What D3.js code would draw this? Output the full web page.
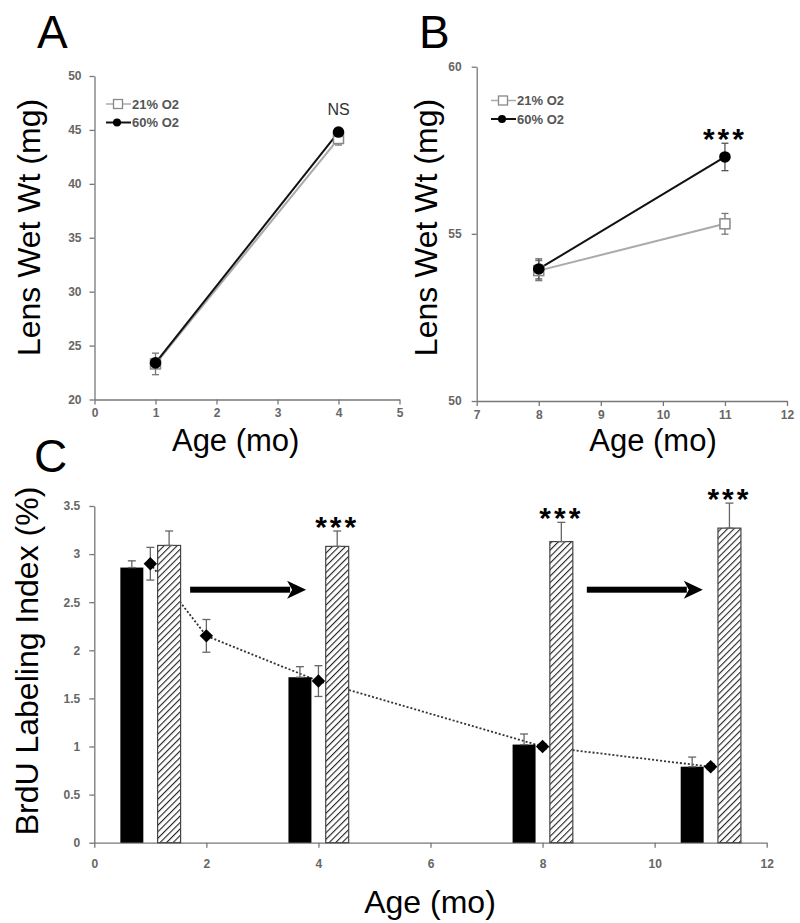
<!DOCTYPE html>
<html><head><meta charset="utf-8">
<script src="https://cdn.jsdelivr.net/npm/d3@7"></script>
<style>
body{margin:0;background:#fff;}
svg{display:block;font-family:"Liberation Sans",Arial,sans-serif;}
.tick text{font-weight:bold;fill:#666;}
</style></head><body>
<svg id="c" width="800" height="923"></svg>
<script>
// ---- Panel A data ----
const agesA = [1, 4];
const a21 = [23.3, 44.2];
const a21Err = [1.0, 0.6];
const a60 = [23.4, 44.8];
const a60Err = [0.4, 0.3];
const ticksA_x = [0, 1, 2, 3, 4, 5];
const ticksA_y = [20, 25, 30, 35, 40, 45, 50];

// ---- Panel B data ----
const agesB = [8, 11];
const b21 = [53.9, 55.3];
const b21Err = [0.3, 0.31];
const b60 = [53.95, 57.3];
const b60Err = [0.3, 0.41];
const ticksB_x = [7, 8, 9, 10, 11, 12];
const ticksB_y = [50, 55, 60];

// ---- Panel C data ----
const barAges = [1, 4, 8, 11];
const blackVals = [2.86, 1.72, 1.02, 0.79];
const blackErr = [0.07, 0.11, 0.11, 0.10];
const hatchVals = [3.09, 3.08, 3.13, 3.27];
const hatchErr = [0.15, 0.16, 0.20, 0.26];
const hatchSig = ["", "***", "***", "***"];
const dotAges = [1, 2, 4, 8, 11];
const dotVals = [2.90, 2.15, 1.68, 1.00, 0.79];
const dotErr = [0.17, 0.17, 0.16, 0.03, 0.03];
const arrowsC = [{from: 1.71, to: 3.78, y: 2.63}, {from: 8.79, to: 10.86, y: 2.63}];
const ticksC_x = [0, 2, 4, 6, 8, 10, 12];
const ticksC_y = [0, 0.5, 1, 1.5, 2, 2.5, 3, 3.5];

const svg = d3.select("#c");
const defs = svg.append("defs");
const pat = defs.append("pattern").attr("id", "hatch").attr("patternUnits", "userSpaceOnUse")
  .attr("width", 4.6).attr("height", 4.6).attr("patternTransform", "rotate(45)");
pat.append("rect").attr("width", 4.6).attr("height", 4.6).attr("fill", "#fff");
pat.append("line").attr("x1", 0).attr("y1", 0).attr("x2", 0).attr("y2", 4.6)
  .attr("stroke", "#222").attr("stroke-width", 2.2);

function styleAxis(g) {
  g.selectAll("path.domain").attr("stroke", "#777").attr("stroke-width", 1.3);
  g.selectAll(".tick line").attr("stroke", "#777").attr("stroke-width", 1.3);
}

function drawAxes(x, y, xt, yt, fmtY, yPad, xPad, fs) {
  const gx = svg.append("g").attr("transform", `translate(0,${y.range()[0]})`)
    .call(d3.axisBottom(x).tickValues(xt).tickSize(5).tickSizeOuter(0).tickPadding(xPad).tickFormat(d3.format("d")));
  gx.selectAll("text").attr("font-size", fs);
  styleAxis(gx);
  const gy = svg.append("g").attr("transform", `translate(${x.range()[0]},0)`)
    .call(d3.axisLeft(y).tickValues(yt).tickSize(5).tickSizeOuter(0).tickPadding(yPad).tickFormat(fmtY));
  gy.selectAll("text").attr("font-size", fs);
  styleAxis(gy);
}

function text(x, y, s, size, opts = {}) {
  const t = svg.append("text").attr("x", x).attr("y", y).text(s)
    .attr("font-size", size).attr("fill", opts.fill || "#000")
    .attr("text-anchor", opts.anchor || "middle");
  if (opts.rotate) t.attr("transform", `rotate(-90,${x},${y})`);
  if (opts.weight) t.attr("font-weight", opts.weight);
  if (opts.ls) t.attr("letter-spacing", opts.ls);
  return t;
}

function errBar(x, yTop, yBot, cap, color) {
  svg.append("line").attr("x1", x).attr("x2", x).attr("y1", yTop).attr("y2", yBot)
    .attr("stroke", color).attr("stroke-width", 1.3);
  svg.append("line").attr("x1", x - cap).attr("x2", x + cap).attr("y1", yTop).attr("y2", yTop)
    .attr("stroke", color).attr("stroke-width", 1.3);
  if (yBot !== null) svg.append("line").attr("x1", x - cap).attr("x2", x + cap).attr("y1", yBot).attr("y2", yBot)
    .attr("stroke", color).attr("stroke-width", 1.3);
}

function linePanel(x, y, ages, s21, e21, s60, e60) {
  const ln = d3.line().x((d, i) => x(ages[i])).y(d => y(d));
  svg.append("path").attr("d", ln(s21)).attr("fill", "none").attr("stroke", "#aaa").attr("stroke-width", 2);
  svg.append("path").attr("d", ln(s60)).attr("fill", "none").attr("stroke", "#111").attr("stroke-width", 2);
  ages.forEach((a, i) => {
    errBar(x(a), y(s21[i] + e21[i]), y(s21[i] - e21[i]), 3.5, "#777");
    errBar(x(a), y(s60[i] + e60[i]), y(s60[i] - e60[i]), 3.5, "#555");
  });
  svg.selectAll(null).data(s21).enter().append("rect")
    .attr("x", (d, i) => x(ages[i]) - 5).attr("y", d => y(d) - 5).attr("width", 10).attr("height", 10)
    .attr("fill", "#fff").attr("stroke", "#888").attr("stroke-width", 1.5);
  svg.selectAll(null).data(s60).enter().append("circle")
    .attr("cx", (d, i) => x(ages[i])).attr("cy", d => y(d)).attr("r", 5.8).attr("fill", "#000");
}

function legend(x0, y0, dy, fs) {
  svg.append("line").attr("x1", x0).attr("x2", x0 + 25).attr("y1", y0).attr("y2", y0).attr("stroke", "#aaa").attr("stroke-width", 1.5);
  svg.append("rect").attr("x", x0 + 7.5).attr("y", y0 - 4.5).attr("width", 9).attr("height", 9).attr("fill", "#fff").attr("stroke", "#888").attr("stroke-width", 1.3);
  svg.append("line").attr("x1", x0).attr("x2", x0 + 25).attr("y1", y0 + dy).attr("y2", y0 + dy).attr("stroke", "#111").attr("stroke-width", 2);
  svg.append("circle").attr("cx", x0 + 11).attr("cy", y0 + dy).attr("r", 4).attr("fill", "#000");
  text(x0 + 26, y0 + 4.5, "21% O2", fs, {anchor: "start", fill: "#555", weight: "bold"});
  text(x0 + 26, y0 + dy + 4.5, "60% O2", fs, {anchor: "start", fill: "#555", weight: "bold"});
}

// ===== Panel A =====
const xA = d3.scaleLinear().domain([0, 5]).range([94.5, 399.5]);
const yA = d3.scaleLinear().domain([20, 50]).range([399.5, 76]);
drawAxes(xA, yA, ticksA_x, ticksA_y, d3.format("d"), 8, 4, 12);
linePanel(xA, yA, agesA, a21, a21Err, a60, a60Err);
legend(106, 104, 18.5, 13);
text(xA(agesA[1]), yA(a60[1] + a60Err[1]) - 14, "NS", 16, {fill: "#333"});
text(235.7, 451, "Age (mo)", 31);
text(40, 227.5, "Lens Wet Wt (mg)", 32, {rotate: true});
text(37, 48, "A", 46, {anchor: "start"});

// ===== Panel B =====
const xB = d3.scaleLinear().domain([7, 12]).range([476.7, 787]);
const yB = d3.scaleLinear().domain([50, 60]).range([401, 66.7]);
drawAxes(xB, yB, ticksB_x, ticksB_y, d3.format("d"), 10, 4, 12);
linePanel(xB, yB, agesB, b21, b21Err, b60, b60Err);
legend(491, 100.5, 18.5, 13);
text(xB(agesB[1]), yB(b60[1] + b60Err[1]) + 6, "***", 30, {ls: 3, weight: "bold"});
text(653, 451, "Age (mo)", 31);
text(437, 227.5, "Lens Wet Wt (mg)", 32, {rotate: true});
text(419, 48, "B", 46, {anchor: "start"});

// ===== Panel C =====
const xC = d3.scaleLinear().domain([0, 12]).range([94.3, 766.7]);
const yC = d3.scaleLinear().domain([0, 3.5]).range([842.7, 506]);
drawAxes(xC, yC, ticksC_x, ticksC_y, d3.format(""), 9, 12, 12);

// dotted line (drawn beneath bars)
svg.append("path").attr("d", d3.line().x((d, i) => xC(dotAges[i])).y(d => yC(d))(dotVals))
  .attr("fill", "none").attr("stroke", "#333").attr("stroke-width", 1.8).attr("stroke-dasharray", "2,2");

const bw = xC(0.41) - xC(0);
// black bars
barAges.forEach((a, i) => {
  const cx = xC(a - 0.33);
  svg.append("rect").attr("x", cx - bw / 2).attr("y", yC(blackVals[i])).attr("width", bw)
    .attr("height", yC(0) - yC(blackVals[i])).attr("fill", "#000");
  errBar(cx, yC(blackVals[i] + blackErr[i]), yC(blackVals[i]), 4, "#666");
});
// hatched bars
barAges.forEach((a, i) => {
  const cx = xC(a + 0.335);
  svg.append("rect").attr("x", cx - bw / 2).attr("y", yC(hatchVals[i])).attr("width", bw)
    .attr("height", yC(0) - yC(hatchVals[i])).attr("fill", "url(#hatch)").attr("stroke", "#444").attr("stroke-width", 1.2);
  errBar(cx, yC(hatchVals[i] + hatchErr[i]), yC(hatchVals[i]), 4, "#666");
  if (hatchSig[i]) text(cx, yC(hatchVals[i] + hatchErr[i]) + 6, hatchSig[i], 30, {ls: 3, weight: "bold"});
});
// diamonds with error bars
dotAges.forEach((a, i) => {
  errBar(xC(a), yC(dotVals[i] + dotErr[i]), yC(dotVals[i] - dotErr[i]), 4, "#666");
});
svg.selectAll(null).data(dotVals).enter().append("path")
  .attr("d", d3.symbol(d3.symbolDiamond2, 115))
  .attr("transform", (d, i) => `translate(${xC(dotAges[i])},${yC(d)})`)
  .attr("fill", "#000");
// arrows
arrowsC.forEach(ar => {
  const x1 = xC(ar.from), x2 = xC(ar.to), yy = yC(ar.y);
  svg.append("rect").attr("x", x1).attr("y", yy - 3).attr("width", x2 - x1 - 16).attr("height", 6).attr("fill", "#000");
  svg.append("path").attr("d", `M${x2},${yy} L${x2 - 19},${yy - 9} L${x2 - 14},${yy} L${x2 - 19},${yy + 9} Z`).attr("fill", "#000");
});
text(430, 913, "Age (mo)", 32);
text(38, 661, "BrdU Labeling Index (%)", 32, {rotate: true});
text(34, 472, "C", 46, {anchor: "start"});
</script></body></html>
